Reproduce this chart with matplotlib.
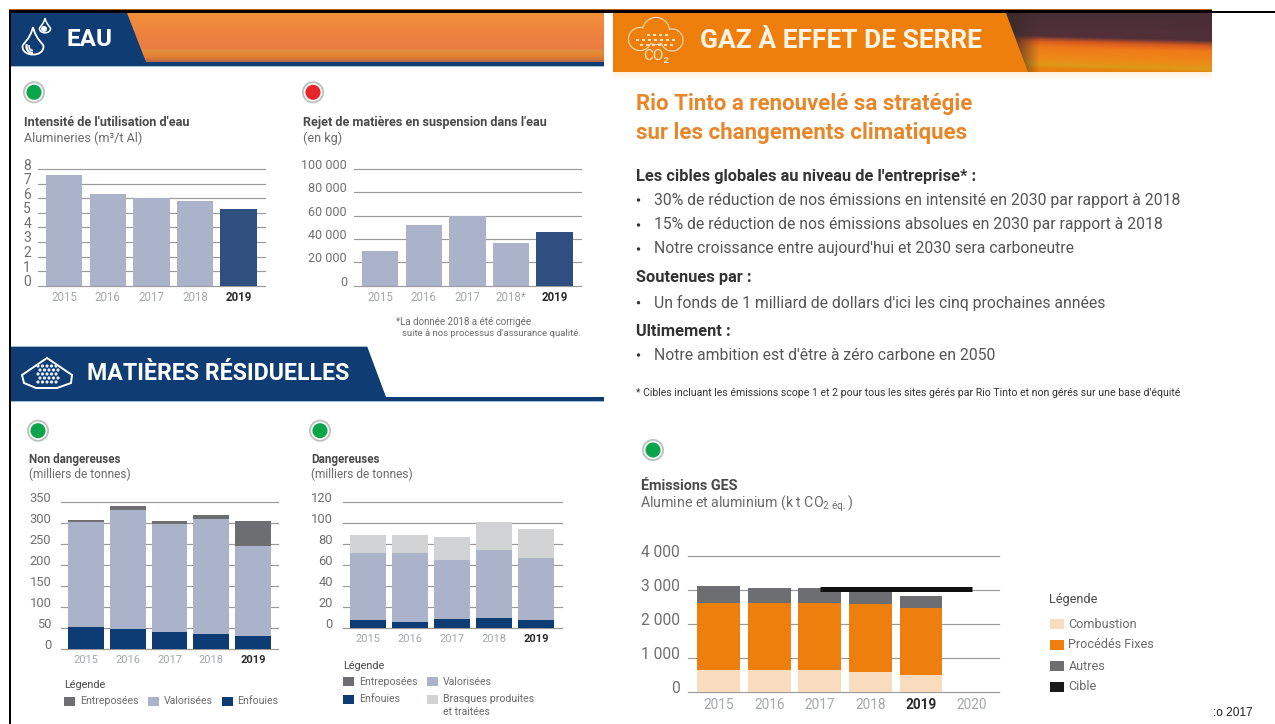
"""Rio Tinto environment dashboard: water, residual materials and GHG panels."""
import numpy as np
import matplotlib
matplotlib.use("Agg")
import matplotlib.pyplot as plt
from matplotlib.colors import to_rgb
from matplotlib.path import Path
from matplotlib.patches import Arc, Circle, PathPatch, Polygon, Rectangle
from matplotlib.transforms import ScaledTranslation

plt.rcParams["font.family"] = ["Roboto", "DejaVu Sans"]

W, H = 1275, 724
NAVY = "#0f3d73"
BAR_LIGHT = "#abb3cb"
BAR_DARK = "#2f4f80"
ENFOUIES = "#0d3c75"
ENTREPOSEES = "#6d6e71"
BRASQUES = "#d2d3d5"
ORANGE = "#ee7f0c"
COMBUSTION = "#f9dcbd"
GRID = "#9b9b9b"
TICK = "#6f6f6f"
YEAR = "#a3a8ad"

YEARS = ["2015", "2016", "2017", "2018", "2019"]
YEARS_STAR = ["2015", "2016", "2017", "2018*", "2019"]
YEARS_GES = ["2015", "2016", "2017", "2018", "2019", "2020"]

EAU_INTENSITE = [7.57, 6.29, 6.03, 5.83, 5.28]
EAU_TICKS = [0, 1, 2, 3, 4, 5, 6, 7, 8]
REJET_MES = [29400, 52000, 59700, 36300, 46300]
REJET_TICKS = [0, 20000, 40000, 60000, 80000, 100000]

ND_ENFOUIES = [53, 47.5, 39.6, 35, 31.7]
ND_VALORISEES = [248, 282.5, 256.4, 274, 213.3]
ND_ENTREPOSEES = [5, 9, 7, 8.5, 58]
ND_TICKS = [0, 50, 100, 150, 200, 250, 300, 350]

D_ENFOUIES = [8.2, 6, 9.2, 10, 8.2]
D_VALORISEES = [62.8, 65, 55.5, 64.5, 58.4]
D_BRASQUES = [17.4, 17.4, 21.5, 25.9, 27.2]
D_TICKS = [0, 20, 40, 60, 80, 100, 120]

GES_COMBUSTION = [665, 665, 665, 587, 508]
GES_PROCEDES = [1966, 1966, 1966, 2005, 1966]
GES_AUTRES = [499, 420, 420, 408, 352]
GES_CIBLE = 3022
GES_CIBLE_YEARS = ["2017", "2020"]
GES_TICKS = [0, 1000, 2000, 3000, 4000]


def french(value):
    """Format a tick with a space as thousands separator."""
    return f"{value:,}".replace(",", " ")


def chart_axes(fig, left, top, right, bottom):
    """Make a transparent axes from pixel edges measured on the page."""
    ax = fig.add_axes([left / W, 1 - bottom / H, (right - left) / W, (bottom - top) / H])
    ax.patch.set_alpha(0)
    for spine in ax.spines.values():
        spine.set_visible(False)
    return ax


def finish_axes(fig, ax, labels, ticks, xlim, ylabel_size, xlabel_size, pad, lift):
    """Apply the shared grid, tick label and bold 2019 styling."""
    ax.set_xlim(*xlim)
    ax.set_ylim(ticks[0], ticks[-1])
    ax.set_xticks(range(len(labels)), labels)
    ax.set_yticks(ticks, [french(t) for t in ticks])
    ax.set_axisbelow(True)
    ax.yaxis.grid(True, color=GRID, linewidth=0.85)
    for line in ax.get_ygridlines():
        line.set_clip_on(False)
    ax.tick_params(axis="both", length=0)
    ax.tick_params(axis="y", pad=pad, labelsize=ylabel_size, labelcolor=TICK)
    ax.tick_params(axis="x", pad=4, labelsize=xlabel_size, labelcolor=YEAR)
    shift = ScaledTranslation(0, lift / 100, fig.dpi_scale_trans)
    for label in ax.get_yticklabels():
        label.set_transform(label.get_transform() + shift)
    for label in ax.get_xticklabels():
        if label.get_text() == "2019":
            label.set_color("#2b2b2b")
            label.set_fontweight("bold")


def stacked(ax, series, colors, width):
    """Draw a stacked bar series from the bottom segment up."""
    base = np.zeros(len(series[0]))
    for values, color in zip(series, colors):
        ax.bar(range(len(values)), values, width, bottom=base, color=color, linewidth=0)
        base = base + np.array(values)


def text(page, x, y, s, size, color="#6b6b6b", weight="normal", ha="left"):
    page.text(x, y, s, fontsize=size, color=color, fontweight=weight, ha=ha, va="center")


def lamp(page, x, y, color):
    """Status lamp: grey ring around a coloured disc."""
    page.add_patch(Circle((x, y), 11, facecolor="#b9c1bc", edgecolor="none"))
    page.add_patch(Circle((x, y), 9.3, facecolor="#f4f6f4", edgecolor="none"))
    page.add_patch(Circle((x, y), 7.5, facecolor=color, edgecolor="none"))


def gradient(page, stops, box, clip, tilt=0.0, fade=None):
    """Paint a vertical colour ramp in box, optionally sloped, and clip it to a polygon."""
    positions = np.array([s[0] for s in stops])
    rgb = np.array([to_rgb(s[1]) for s in stops])
    rows = np.linspace(0, 1, 80)
    cols = np.linspace(0, 1, 120)
    ramp = np.zeros((80, 120, 3))
    for j, col in enumerate(cols):
        for i in range(3):
            ramp[:, j, i] = np.interp(rows - tilt * col, positions, rgb[:, i])
    if fade is not None:
        weight = np.clip(cols / 0.16, 0, 1)[None, :, None]
        ramp = ramp * weight + np.array(to_rgb(fade)) * (1 - weight)
    image = page.imshow(ramp, extent=box, aspect="auto", zorder=2, interpolation="bilinear")
    patch = Polygon(clip, closed=True, transform=page.transData, facecolor="none", edgecolor="none")
    page.add_patch(patch)
    image.set_clip_path(patch)


def drop(page, x, top, bottom, half, **style):
    """Water drop outline from its tip down to its round base."""
    mid = bottom - half
    verts = [(x, top), (x - 0.3 * half, mid - 0.6 * half), (x - half, mid - 0.3 * half), (x - half, mid),
             (x - half, bottom + 0.3), (x + half, bottom + 0.3), (x + half, mid),
             (x + half, mid - 0.3 * half), (x + 0.3 * half, mid - 0.6 * half), (x, top)]
    codes = [Path.MOVETO] + [Path.CURVE4] * 9
    page.add_patch(PathPatch(Path(verts, codes), zorder=4, **style))


def legend_item(page, x, y, label, size, box=11, gap=5, color=None, height=9):
    page.add_patch(Rectangle((x, y - height / 2), box, height, facecolor=color, edgecolor="none"))
    text(page, x + box + gap, y, label, size)


def draw_page(fig):
    page = fig.add_axes([0, 0, 1, 1], zorder=0)
    page.set_xlim(0, W)
    page.set_ylim(H, 0)
    page.axis("off")

    # page frame
    page.add_patch(Rectangle((8.6, 9), 1203, 1.2, facecolor="#b5651d", edgecolor="none", zorder=6))
    page.add_patch(Rectangle((8.6, 10), 1203, 2.6, facecolor="black", edgecolor="none", zorder=6))
    page.add_patch(Rectangle((1212, 10.6), 63, 2.2, facecolor="black", edgecolor="none", zorder=6))
    page.add_patch(Rectangle((8.6, 10), 2, 724, facecolor="black", edgecolor="none", zorder=6))

    # EAU banner
    page.add_patch(Rectangle((10, 13), 594, 53, facecolor=NAVY, edgecolor="none", zorder=1))
    page.add_patch(Rectangle((10, 66), 594, 1, facecolor="#9fc0d0", edgecolor="none", zorder=1))
    gradient(page, [(0, "#f3903a"), (0.45, "#ee8240"), (0.72, "#ea7c42"), (0.78, "#e0903e"), (0.88, "#e88230"), (1, "#b86a48")],
             (127, 604, 62, 13), [(127, 13), (604, 13), (604, 62), (146, 62)])
    drop(page, 33, 27, 57, 10.5, facecolor="none", edgecolor="white", linewidth=1.3)
    page.add_patch(Arc((33, 46.5), 13, 13, theta1=90, theta2=200, color="white", linewidth=1.6, zorder=4))
    page.add_patch(Arc((33, 46.5), 8, 8, theta1=90, theta2=200, color="white", linewidth=1.2, zorder=4))
    drop(page, 45, 18, 34, 5.5, facecolor="none", edgecolor="white", linewidth=1.1)
    page.add_patch(Circle((44, 29), 3, facecolor="white", edgecolor="none", zorder=4))
    text(page, 67, 39, "EAU", 17.5, "white", "bold")

    # residual materials banner
    page.add_patch(Polygon([(10, 346), (367, 346), (386, 397), (604, 397), (604, 401), (10, 401)],
                           facecolor=NAVY, edgecolor="none", zorder=1))
    page.add_patch(Rectangle((10, 345.5), 357, 1, facecolor="#9fc0d0", edgecolor="none", zorder=1))
    page.add_patch(Rectangle((10, 401), 594, 1, facecolor="#9fc0d0", edgecolor="none", zorder=1))
    page.add_patch(Polygon([(22, 375), (47, 358), (72, 375), (71, 383), (57, 388), (36, 388), (24, 383)],
                           facecolor="none", edgecolor="white", linewidth=1.4, zorder=4))
    for row, dy in enumerate((366, 370, 374, 378, 382)):
        for dx in (38, 42.5, 47, 51.5, 56):
            page.add_patch(Circle((dx + row % 2 * 2, dy), 1.6, facecolor="#e8edf4", edgecolor="none", zorder=4))
    text(page, 87, 374, "MATIÈRES RÉSIDUELLES", 16.7, "white", "bold")

    # GHG banner
    gradient(page, [(0, "#fff1de"), (1, "#ffffff")], (613, 1212, 80, 72), [(613, 72), (1212, 72), (1212, 80), (613, 80)])
    page.add_patch(Rectangle((613, 13), 599, 59, facecolor=ORANGE, edgecolor="none", zorder=1))
    gradient(page, [(0, "#4a2e35"), (0.37, "#52303a"), (0.46, "#d85a20"), (0.56, "#ee7a18"), (0.76, "#ee8a18"), (0.86, "#dd9a18"), (0.93, "#e8820f"), (1, "#e8820f")],
             (1006, 1212, 72, 13), [(1006, 13), (1212, 13), (1212, 72), (1028, 72)], tilt=0.1, fade="#3a2a2a")
    lobes = [(640, 39, 11), (656, 31, 13), (672, 40, 10.5)]
    for x, y, r in lobes:
        page.add_patch(Circle((x, y), r, facecolor="none", edgecolor="#fde3c2", linewidth=1.5, zorder=3))
    for x, y, r in lobes:
        page.add_patch(Circle((x, y), r, facecolor=ORANGE, edgecolor="none", zorder=3))
    for dy, dxs in zip((35, 40, 45), ((648, 654, 660, 666), (637, 643, 649, 655, 661, 667, 673), (641, 647, 653, 659, 665, 671))):
        for dx in dxs:
            page.add_patch(Rectangle((dx - 1.5, dy - 0.6), 3, 1.2, facecolor="#fde3c2", edgecolor="none", zorder=4))
    page.text(656, 56, "CO₂", fontsize=11, color="#fde3c2", ha="center", va="center", zorder=5)
    page.text(699.5, 41.5, "GAZ À EFFET DE SERRE", fontsize=19, color="#fff4e6", fontweight="bold", va="center", zorder=5)

    # status lamps
    lamp(page, 34, 92.3, "#0aa54a")
    lamp(page, 313, 92.3, "#e8262a")
    lamp(page, 38, 430.7, "#0aa54a")
    lamp(page, 320, 430.7, "#0aa54a")
    lamp(page, 653, 450, "#0aa54a")

    # chart headings
    dark = "#4a4a4a"
    text(page, 24, 122.7, "Intensité de l'utilisation d'eau", 9.2, dark, "bold")
    text(page, 24, 138.7, "Alumineries (m³/t Al)", 9.1)
    text(page, 303, 122.7, "Rejet de matières en suspension dans l'eau", 9.1, dark, "bold")
    text(page, 303, 138.7, "(en kg)", 9.1)
    text(page, 396, 322, "*La donnée 2018 a été corrigée", 7)
    text(page, 402, 333.7, "suite à nos processus d'assurance qualité.", 6.8)
    text(page, 29, 459, "Non dangereuses", 8.4, dark, "bold")
    text(page, 29, 474, "(milliers de tonnes)", 8.6)
    text(page, 311, 459, "Dangereuses", 8.4, dark, "bold")
    text(page, 311, 474, "(milliers de tonnes)", 8.6)

    # legends
    text(page, 64.4, 685, "Légende", 7.8, dark)
    legend_item(page, 64, 701, "Entreposées", 7.6, color=ENTREPOSEES)
    legend_item(page, 147.5, 701, "Valorisées", 7.6, color=BAR_LIGHT)
    legend_item(page, 221.5, 701, "Enfouies", 7.6, color=ENFOUIES)
    text(page, 343.5, 665.7, "Légende", 7.8, dark)
    legend_item(page, 343, 681.7, "Entreposées", 7.6, color=ENTREPOSEES)
    legend_item(page, 427, 681.7, "Valorisées", 7.6, color=BAR_LIGHT)
    legend_item(page, 343, 699, "Enfouies", 7.6, color=ENFOUIES)
    legend_item(page, 427, 699, "Brasques produites", 7.6, color=BRASQUES)
    text(page, 443, 712.3, "et traitées", 7.6)
    text(page, 1048.5, 600, "Légende", 9.2, dark)
    legend_item(page, 1049.5, 624, "Combustion", 9.1, box=14, color=COMBUSTION, height=10)
    legend_item(page, 1049.5, 645, "Procédés Fixes", 9.1, box=14, color=ORANGE, height=10)
    legend_item(page, 1049.5, 666, "Autres", 9.1, box=14, color=ENTREPOSEES, height=10)
    legend_item(page, 1049.5, 687, "Cible", 9.1, box=14, color="#1a1a1a", height=10)

    # strategy text
    rio = "#e8862a"
    text(page, 636, 104, "Rio Tinto a renouvelé sa stratégie", 16, rio, "bold")
    text(page, 636, 132.7, "sur les changements climatiques", 16, rio, "bold")
    ink = "#333333"
    body = "#555555"
    text(page, 636, 176.7, "Les cibles globales au niveau de l'entreprise* :", 11.8, ink, "bold")
    text(page, 654.5, 200, "30% de réduction de nos émissions en intensité en 2030 par rapport à 2018", 11.3, body)
    text(page, 654.5, 225, "15% de réduction de nos émissions absolues en 2030 par rapport à 2018", 11.3, body)
    text(page, 654.5, 249, "Notre croissance entre aujourd'hui et 2030 sera carboneutre", 11.3, body)
    text(page, 636, 277.7, "Soutenues par :", 11.8, ink, "bold")
    text(page, 654.5, 302.7, "Un fonds de 1 milliard de dollars d'ici les cinq prochaines années", 11.3, body)
    text(page, 636, 331.7, "Ultimement :", 11.8, ink, "bold")
    text(page, 654.5, 355, "Notre ambition est d'être à zéro carbone en 2050", 11.3, body)
    for y in (200, 225, 249, 302.7, 355):
        page.add_patch(Circle((638.5, y), 1.7, facecolor="#333333", edgecolor="none"))
    text(page, 636, 392.7, "* Cibles incluant les émissions scope 1 et 2 pour tous les sites gérés par Rio Tinto et non gérés sur une base d'équité", 7.6, ink)
    text(page, 641.4, 485.7, "Émissions GES", 10.4, dark, "bold")
    text(page, 640.5, 504, r"Alumine et aluminium (k t CO$_{\mathregular{2\ éq.}}$)", 10.2)

    page.text(1253, 713, ":o 2017", fontsize=8.6, color="#222222", family="Liberation Sans", ha="right", va="center")


def main():
    fig = plt.figure(figsize=(W / 100, H / 100), dpi=100, facecolor="white")
    draw_page(fig)

    ax = chart_axes(fig, 38, 169, 265, 285.7)
    ax.bar(range(5), EAU_INTENSITE, 0.837, color=[BAR_LIGHT] * 4 + [BAR_DARK], linewidth=0)
    finish_axes(fig, ax, YEARS, EAU_TICKS, (-0.6, 4.604), 10, 8.3, 5, 5)

    ax = chart_axes(fig, 354, 169, 580.5, 285.7)
    ax.bar(range(5), REJET_MES, 0.837, color=[BAR_LIGHT] * 4 + [BAR_DARK], linewidth=0)
    finish_axes(fig, ax, YEARS_STAR, REJET_TICKS, (-0.603, 4.597), 9, 8.3, 5, 5)

    ax = chart_axes(fig, 61, 501.7, 278, 649)
    stacked(ax, [ND_ENFOUIES, ND_VALORISEES, ND_ENTREPOSEES], [ENFOUIES, BAR_LIGHT, ENTREPOSEES], 0.856)
    finish_axes(fig, ax, YEARS, ND_TICKS, (-0.6, 4.6), 9.3, 8, 7, 5)

    ax = chart_axes(fig, 342.5, 501.7, 561.7, 628.3)
    stacked(ax, [D_ENFOUIES, D_VALORISEES, D_BRASQUES], [ENFOUIES, BAR_LIGHT, BRASQUES], 0.855)
    finish_axes(fig, ax, YEARS, D_TICKS, (-0.6, 4.6), 9.3, 8, 7, 5)

    ax = chart_axes(fig, 687.6, 556, 999, 692.3)
    stacked(ax, [GES_COMBUSTION, GES_PROCEDES, GES_AUTRES], [COMBUSTION, ORANGE, ENTREPOSEES], 0.846)
    cible_x = [YEARS_GES.index(y) for y in GES_CIBLE_YEARS]
    ax.plot(cible_x, [GES_CIBLE] * 2, color="#111111", linewidth=3.6, solid_capstyle="butt", zorder=5)
    finish_axes(fig, ax, YEARS_GES, GES_TICKS, (-0.615, 5.54), 11.2, 9.8, 5.5, 5)

    fig.savefig("out.png", dpi=100)
    plt.close(fig)


if __name__ == "__main__":
    main()
